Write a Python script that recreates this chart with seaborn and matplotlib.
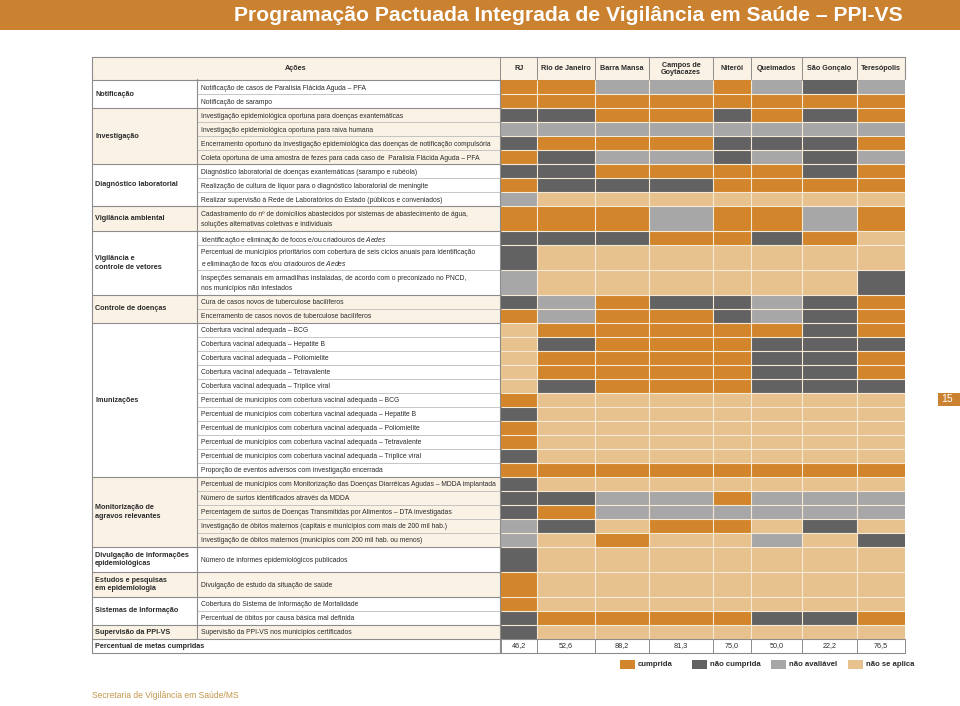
import numpy as np
import matplotlib
matplotlib.use('Agg')
import matplotlib.pyplot as plt
import seaborn as sns
from matplotlib.colors import ListedColormap
from matplotlib.patches import Rectangle
from matplotlib import font_manager

# Dados da tabela
titulo = 'Programação Pactuada Integrada de Vigilância em Saúde – PPI-VS'
municipios = ['RJ', 'Rio de Janeiro', 'Barra Mansa', 'Campos de\nGoytacazes',
              'Niterói', 'Queimados', 'São Gonçalo', 'Teresópolis']
percentual_metas = [46.2, 52.6, 88.2, 81.3, 75.0, 50.0, 22.2, 76.5]

grupos = ['Notificação', 'Investigação', 'Diagnóstico laboratorial', 'Vigilância ambiental',
          'Vigilância e\ncontrole de vetores', 'Controle de doenças', 'Imunizações',
          'Monitorização de\nagravos relevantes', 'Divulgação de informações\nepidemiológicas',
          'Estudos e pesquisas\nem epidemiologia', 'Sistemas de Informação', 'Supervisão da PPI-VS']
grupo_linhas = [2, 4, 3, 1, 3, 2, 11, 5, 1, 1, 2, 1]

acoes = [
    'Notificação de casos de Paralisia Flácida Aguda – PFA',
    'Notificação de sarampo',
    'Investigação epidemiológica oportuna para doenças exantemáticas',
    'Investigação epidemiológica oportuna para raiva humana',
    'Encerramento oportuno da investigação epidemiológica das doenças de notificação compulsória',
    'Coleta oportuna de uma amostra de fezes para cada caso de  Paralisia Flácida Aguda – PFA',
    'Diagnóstico laboratorial de doenças exantemáticas (sarampo e rubéola)',
    'Realização de cultura de líquor para o diagnóstico laboratorial de meningite',
    'Realizar supervisão à Rede de Laboratórios do Estado (públicos e conveniados)',
    'Cadastramento do nº de domicílios abastecidos por sistemas de abastecimento de água,\n'
    'soluções alternativas coletivas e individuais',
    r'Identificação e eliminação de focos e/ou criadouros de $\mathit{Aedes}$',
    'Percentual de municípios prioritários com cobertura de seis ciclos anuais para identificação\n'
    r'e eliminação de focos e/ou criadouros de $\mathit{Aedes}$',
    'Inspeções semanais em armadilhas instaladas, de acordo com o preconizado no PNCD,\n'
    'nos municípios não infestados',
    'Cura de casos novos de tuberculose bacilíferos',
    'Encerramento de casos novos de tuberculose bacilíferos',
    'Cobertura vacinal adequada – BCG',
    'Cobertura vacinal adequada – Hepatite B',
    'Cobertura vacinal adequada – Poliomielite',
    'Cobertura vacinal adequada – Tetravalente',
    'Cobertura vacinal adequada – Tríplice viral',
    'Percentual de municípios com cobertura vacinal adequada – BCG',
    'Percentual de municípios com cobertura vacinal adequada – Hepatite B',
    'Percentual de municípios com cobertura vacinal adequada – Poliomielite',
    'Percentual de municípios com cobertura vacinal adequada – Tetravalente',
    'Percentual de municípios com cobertura vacinal adequada – Tríplice viral',
    'Proporção de eventos adversos com investigação encerrada',
    'Percentual de municípios com Monitorização das Doenças Diarréicas Agudas – MDDA implantada',
    'Número de surtos identificados através da MDDA',
    'Percentagem de surtos de Doenças Transmitidas por Alimentos – DTA investigadas',
    'Investigação de óbitos maternos (capitais e municípios com mais de 200 mil hab.)',
    'Investigação de óbitos maternos (municípios com 200 mil hab. ou menos)',
    'Número de informes epidemiológicos publicados',
    'Divulgação de estudo da situação de saúde',
    'Cobertura do Sistema de Informação de Mortalidade',
    'Percentual de óbitos por causa básica mal definida',
    'Supervisão da PPI-VS nos municípios certificados',
]

# C = cumprida, N = não cumprida, A = não avaliável, X = não se aplica
situacao = [
    'CCAACANA', 'CCCCCCCC', 'NNCCNCNC', 'AAAAAAAA', 'NCCCNNNC', 'CNAANANA',
    'NNCCCCNC', 'CNNNCCCC', 'AXXXXXXX', 'CCCACCAC',
    'NNNCCNCX', 'NXXXXXXX', 'AXXXXXXN',
    'NACNNANC', 'CACCNANC',
    'XCCCCCNC', 'XNCCCNNN', 'XCCCCNNC', 'XCCCCNNC', 'XNCCCNNN',
    'CXXXXXXX', 'NXXXXXXX', 'CXXXXXXX', 'CXXXXXXX', 'NXXXXXXX', 'CCCCCCCC',
    'NXXXXXXX', 'NNAACAAA', 'NCAAAAAA', 'ANXCCXNX', 'AXCXXAXN',
    'NXXXXXXX', 'CXXXXXXX', 'CXXXXXXX', 'NCCCCNNC', 'NXXXXXXX',
]

legenda = ['cumprida', 'não cumprida', 'não avaliável', 'não se aplica']
codigos = ['C', 'N', 'A', 'X']
cores = ['#d2852a', '#626262', '#a7a7a7', '#e7c28f']

# ---- estilo / fontes
sns.set_theme(style='white')
nomes = {f.name for f in font_manager.fontManager.ttflist}
if 'Liberation Sans Narrow' in nomes:
    FONTE, fs = 'Liberation Sans Narrow', 6.4
else:
    FONTE, fs = 'Liberation Sans', 4.85
plt.rcParams['font.family'] = [FONTE, 'DejaVu Sans']
plt.rcParams['mathtext.fontset'] = 'custom'
plt.rcParams['mathtext.it'] = FONTE + ':italic'
plt.rcParams['mathtext.rm'] = FONTE
txt = '#2b2b2b'
laranja = '#cb8230'
creme = '#fbf2e6'
linha = '#8c8c8c'
linha_clara = '#bdbdbd'

# ---- layout (pixels)
W, H = 960, 706
x0, x_cat, x_acao = 92, 197, 500
col_w = [36, 58, 54, 64, 38, 51, 55, 48]
col_edges = x_acao + 1 + np.concatenate([[0], np.cumsum(col_w)])
y_head, y_grid = 57, 80

grupo_idx = np.repeat(np.arange(len(grupos)), grupo_linhas)
alto = [('\n' in a) or (grupo_linhas[g] == 1 and '\n' in grupos[g]) for a, g in zip(acoes, grupo_idx)]
row_h = np.where(alto, 25, 14)
row_edges = y_grid + np.concatenate([[0], np.cumsum(row_h)])
y_num = row_edges[-1]
y_end = y_num + 14

fig = plt.figure(figsize=(W / 100, H / 100), dpi=100)
ax = fig.add_axes([0, 0, 1, 1])
ax.set_xlim(0, W)
ax.set_ylim(H, 0)
ax.set_axis_off()

# faixa do título
ax.add_patch(Rectangle((0, 0), W, 30, color=laranja, lw=0))
ax.text(903, 15.5, titulo, ha='right', va='center', color='white',
        fontsize=15.2, fontweight='bold')

# cabeçalho
ax.add_patch(Rectangle((x0, y_head), col_edges[-1] - x0, y_grid - y_head, color=creme, lw=0))
ax.text((x0 + x_acao) / 2, (y_head + y_grid) / 2, 'Ações', ha='center', va='center',
        fontsize=fs + 0.4, fontweight='bold', color=txt)
for i, m in enumerate(municipios):
    ax.text((col_edges[i] + col_edges[i + 1]) / 2, (y_head + y_grid) / 2 + 0.5, m, ha='center',
            va='center', fontsize=fs + 0.4, fontweight='bold', color=txt, linespacing=0.95)
for xe in [x_acao] + list(col_edges[1:-1]):
    ax.plot([xe, xe], [y_head, y_grid - 1], color=linha, lw=0.7)

# grupos e ações
start = 0
for g, (nome, n) in enumerate(zip(grupos, grupo_linhas)):
    ya, yb = row_edges[start], row_edges[start + n]
    if g % 2 == 1:
        ax.add_patch(Rectangle((x0, ya), x_acao - x0, yb - ya, color=creme, lw=0))
    ax.text(x0 + 3, (ya + yb) / 2, nome, ha='left', va='center', fontsize=fs + 0.4,
            fontweight='bold', color=txt, linespacing=1.35)
    for r in range(start, start + n):
        yc = (row_edges[r] + row_edges[r + 1]) / 2
        partes = acoes[r].split('\n')
        for k, parte in enumerate(partes):
            ax.text(x_cat + 4, yc + (k - (len(partes) - 1) / 2) * 11, parte, ha='left',
                    va='center_baseline', fontsize=fs, color=txt)
        if r > start:
            ax.plot([x_cat, x_acao], [row_edges[r], row_edges[r]], color=linha_clara, lw=0.6)
    ax.plot([x0, x_acao], [ya, ya], color=linha, lw=0.8)
    start += n

# linha de percentuais
ax.text(x0 + 3, (y_num + y_end) / 2, 'Percentual de metas cumpridas', ha='left', va='center',
        fontsize=fs + 0.4, fontweight='bold', color=txt)
for i, v in enumerate(percentual_metas):
    ax.text((col_edges[i] + col_edges[i + 1]) / 2, (y_num + y_end) / 2,
            f'{v:.1f}'.replace('.', ','), ha='center', va='center', fontsize=fs + 0.4, color=txt)
for xe in col_edges:
    ax.plot([xe, xe], [y_num, y_end], color=linha, lw=0.7)

# bordas
ax.plot([x0, col_edges[-1]], [y_head, y_head], color=linha, lw=0.8)
ax.plot([x0, col_edges[-1]], [y_num, y_num], color=linha, lw=0.8)
ax.plot([x0, col_edges[-1]], [y_end, y_end], color=linha, lw=0.8)
ax.plot([col_edges[-1], col_edges[-1]], [y_head, y_grid - 1], color=linha, lw=0.8)
ax.plot([x0, x0], [y_head, y_end], color=linha, lw=0.8)
ax.plot([x_cat, x_cat], [y_grid - 1, y_num], color=linha, lw=0.8)
ax.plot([x_acao, x_acao], [y_grid - 1, y_end], color=linha, lw=0.8)

# grade de situação (heatmap com linhas/colunas de larguras diferentes)
mapa = {c: i for i, c in enumerate(codigos)}
matriz = np.array([[mapa[c] for c in s] for s in situacao])
expandida = np.repeat(np.repeat(matriz, row_h, axis=0), col_w, axis=1)
gx = fig.add_axes([col_edges[0] / W, 1 - y_num / H, (col_edges[-1] - col_edges[0]) / W,
                   (y_num - y_grid) / H])
sns.heatmap(expandida, ax=gx, cmap=ListedColormap(cores), vmin=-0.5, vmax=3.5, cbar=False,
            xticklabels=False, yticklabels=False, linewidths=0)
sep = '#f6ead6'
gx.hlines(np.cumsum(row_h)[:-1], 0, sum(col_w), color=sep, lw=0.8)
gx.vlines(np.cumsum(col_w)[:-1], 0, sum(row_h), color=sep, lw=0.8)

# legenda
leg_x = [620, 692, 771, 848]
for xl, rot, cor in zip(leg_x, legenda, cores):
    ax.add_patch(Rectangle((xl, 660), 15, 9, color=cor, lw=0))
    ax.text(xl + 18, 664.5, rot, ha='left', va='center', fontsize=fs + 0.7, fontweight='bold',
            color=txt)

# número da página e rodapé
ax.add_patch(Rectangle((938, 393), 22, 13, color=laranja, lw=0))
ax.text(941, 399.5, '15', ha='left', va='center', fontsize=7.5, color='white')
ax.text(x0, 695, 'Secretaria de Vigilância em Saúde/MS', ha='left', va='center',
        fontsize=fs + 1.3, color='#c4964a')

fig.savefig('out.png', dpi=100)
